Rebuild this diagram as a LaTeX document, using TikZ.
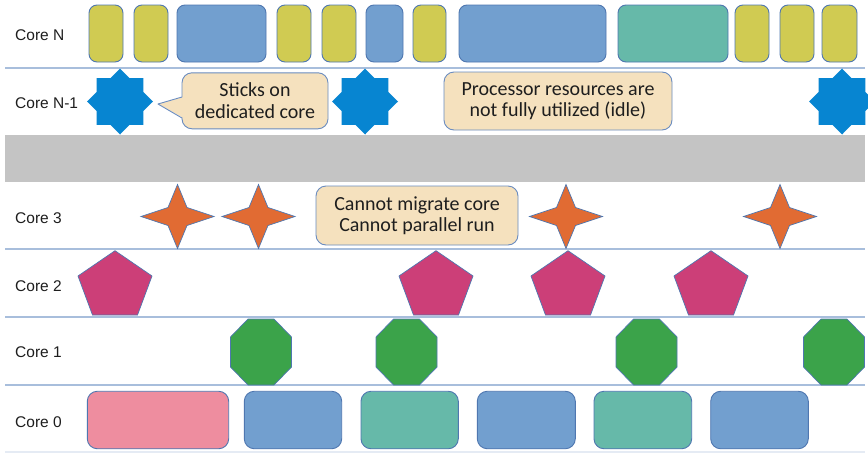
\documentclass[tikz,border=0pt]{standalone}
\usepackage{fontspec}
\setmainfont{Liberation Sans}
\newfontfamily\notefont{Carlito}
\usetikzlibrary{shapes.geometric}

\definecolor{yel}{HTML}{D0CB52}
\definecolor{blu}{HTML}{729FCF}
\definecolor{tea}{HTML}{66B9A9}
\definecolor{pnk}{HTML}{EE8D9F}
\definecolor{mag}{HTML}{CC3F78}
\definecolor{grn}{HTML}{3BA34A}
\definecolor{org}{HTML}{E16B33}
\definecolor{sky}{HTML}{0785D1}
\definecolor{bandgray}{HTML}{C4C4C4}
\definecolor{notefill}{HTML}{F5E1BE}
\definecolor{noteline}{HTML}{6A8CC0}
\definecolor{rule}{HTML}{A8BEDC}
\definecolor{edge}{HTML}{4F77B0}
\definecolor{ink}{HTML}{1E1E1E}

\tikzset{
  task/.style={draw=edge, line width=0.9pt, inner sep=0pt, outer sep=0pt, rounded corners=8pt},
  lbl/.style={anchor=base west, inner sep=0pt, text=ink, font=\fontsize{15.5}{18}\selectfont},
  note/.style={fill=notefill, draw=noteline, line width=0.9pt, rounded corners=10pt,
    inner sep=0pt, outer sep=0pt, align=center, text=ink,
    font=\notefont\fontsize{20}{21.5}\selectfont},
  rowline/.style={draw=rule, line width=2pt},
  octastar/.style={shape=star, star points=8, star point ratio=1.31, minimum size=66pt,
    inner sep=0pt, fill=sky},
  pics/spark/.style={code={
    \path[fill=org, draw=edge, line width=0.7pt] (0,-32) -- (9.5,-9) -- (36.5,0) -- (9.5,9)
      -- (0,32) -- (-9.5,9) -- (-36.5,0) -- (-9.5,-9) -- cycle;}},
  pics/penta/.style={code={
    \path[fill=mag, draw=edge, line width=0.7pt] (0,-32.3) -- (37,-7) -- (22.5,32)
      -- (-22.5,32) -- (-37,-7) -- cycle;}},
  pics/octa/.style={code={
    \path[fill=grn, draw=edge, line width=0.7pt] (-13,-33) -- (13,-33) -- (30.5,-15)
      -- (30.5,15) -- (13,33) -- (-13,33) -- (-30.5,15) -- (-30.5,-15) -- cycle;}},
}

\begin{document}
\begin{tikzpicture}[x=1pt,y=-1pt]
\useasboundingbox[fill=white] (0,0) rectangle (868,453);

% lane separators and the elided band of cores
\draw[rowline] (5,68) -- (865,68);
\fill[bandgray] (5,135) rectangle (865,182);
\draw[rowline] (5,249) -- (865,249);
\draw[rowline] (5,317) -- (865,317);
\draw[rowline] (5,385) -- (865,385);
\draw[draw=rule!30, line width=1.5pt] (5,452) -- (865,452);

% lane labels
\node[lbl] (lN)  at (15,40)    {Core N};
\node[lbl] (lN1) at (15,108.3) {Core N-1};
\node[lbl] (l3)  at (15,223.3) {Core 3};
\node[lbl] (l2)  at (15,291)   {Core 2};
\node[lbl] (l1)  at (15,357)   {Core 1};
\node[lbl] (l0)  at (15,427.3) {Core 0};

% Core N: tasks scheduled freely
\foreach \a/\b/\c [count=\i] in {89/123/yel,134/168/yel,177/266/blu,277/311/yel,
    322/356/yel,366/403/blu,413/446/yel,459/606/blu,618/728/tea,735/769/yel,
    780/814/yel,822/857/yel}{
  \pgfmathsetmacro\w{\b-\a}
  \pgfmathsetmacro\cx{(\a+\b)/2}
  \node[task, fill=\c, minimum width=\w pt, minimum height=57pt] (tn\i) at (\cx,33.5) {};
}

% Core N-1: pinned task
\node[octastar] (p1) at (120,101.5) {};
\node[octastar] (p2) at (365,101.5) {};
\node[octastar] (p3) at (842,101.5) {};

% Core 3
\pic (s1) at (177.5,216.5) {spark};
\pic (s2) at (258.5,216.5) {spark};
\pic (s3) at (566,216.5) {spark};
\pic (s4) at (780,216.5) {spark};

% Core 2
\pic (g1) at (115,283) {penta};
\pic (g2) at (436,283) {penta};
\pic (g3) at (568,283) {penta};
\pic (g4) at (711,283) {penta};

% Core 1
\pic (o1) at (261,352) {octa};
\pic (o2) at (406.5,352) {octa};
\pic (o3) at (646.5,352) {octa};
\pic (o4) at (834,352) {octa};

% Core 0
\foreach \a/\b/\c [count=\i] in {87.3/228.7/pnk,244.3/341.7/blu,361/458.3/tea,
    477.3/575.3/blu,594/691.7/tea,710.7/808.3/blu}{
  \pgfmathsetmacro\w{\b-\a}
  \pgfmathsetmacro\cx{(\a+\b)/2}
  \node[task, rounded corners=10pt, fill=\c, minimum width=\w pt, minimum height=57.5pt] (tz\i) at (\cx,420) {};
}

% notes
\node[note, minimum width=146pt, minimum height=56pt] (stick) at (255,100.8) {Sticks on\\dedicated core};
\coordinate (stiptip) at (158,104);
\fill[notefill] ([yshift=3.8pt, xshift=1.5pt]stick.west) -- (stiptip) -- ([yshift=-17.2pt, xshift=1.5pt]stick.west) -- cycle;
\draw[noteline, line width=0.9pt, line join=round] ([yshift=3.8pt]stick.west) -- (stiptip) -- ([yshift=-17.2pt]stick.west);

\node[note, minimum width=228pt, minimum height=58pt] (idle) at (558,101) {Processor resources are\\not fully utilized (idle)};
\node[note, minimum width=202pt, minimum height=59pt] (nomig) at (417,215.5) {Cannot migrate core\\Cannot parallel run};
\end{tikzpicture}
\end{document}
